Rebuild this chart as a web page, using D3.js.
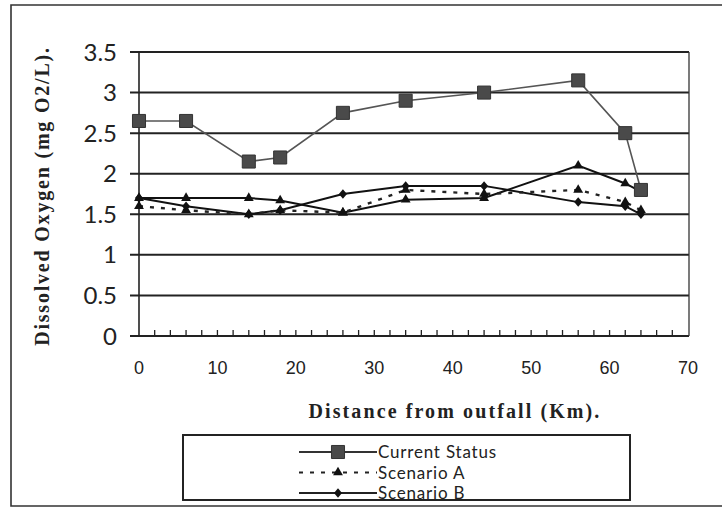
<!DOCTYPE html>
<html>
<head>
<meta charset="utf-8">
<script src="https://cdn.jsdelivr.net/npm/d3@7"></script>
<style>
  html, body { margin: 0; padding: 0; background: #fff; }
  svg { display: block; }
</style>
</head>
<body>
<svg id="chart" width="722" height="509"></svg>
<script>
// ---- data ----
const distances = [0, 6, 14, 18, 26, 34, 44, 56, 62, 64];
const currentStatus = [2.65, 2.65, 2.15, 2.2, 2.75, 2.9, 3.0, 3.15, 2.5, 1.8];
const scenarioA = [1.6, 1.55, 1.5, 1.55, 1.52, 1.8, 1.75, 1.8, 1.65, 1.55];
const scenarioB = [1.7, 1.6, 1.5, 1.55, 1.75, 1.85, 1.85, 1.65, 1.6, 1.5];
const scenarioC = [1.7, 1.7, 1.7, 1.67, 1.52, 1.68, 1.7, 2.1, 1.88, 1.78];
const yTickValues = [0, 0.5, 1, 1.5, 2, 2.5, 3, 3.5];
const xTickValues = [0, 10, 20, 30, 40, 50, 60, 70];
const legendNames = ["Current Status", "Scenario A", "Scenario B"];
const yTitle = "Dissolved Oxygen (mg O2/L).";
const xTitle = "Distance from outfall (Km).";

const svg = d3.select("#chart");
const L = 139, R = 688, T = 52, B = 336;
const x = d3.scaleLinear().domain([0, 70]).range([L, R]);
const y = d3.scaleLinear().domain([0, 3.5]).range([B, T]);

// outer border
svg.append("path")
  .attr("d", "M722,5 H11 V506 H722")
  .attr("fill", "none").attr("stroke", "#333").attr("stroke-width", 1.6);

// horizontal gridlines (with outside tick stubs)
svg.append("g").selectAll("line").data(yTickValues).join("line")
  .attr("x1", L - 9).attr("x2", R + 1)
  .attr("y1", d => y(d)).attr("y2", d => y(d))
  .attr("stroke", "#222").attr("stroke-width", 2);

// right border of plot
svg.append("line").attr("x1", R + 1).attr("x2", R + 1).attr("y1", y(3.5)).attr("y2", y(0))
  .attr("stroke", "#333").attr("stroke-width", 1.3);
// y axis line
svg.append("line").attr("x1", L).attr("x2", L).attr("y1", y(3.5)).attr("y2", y(0))
  .attr("stroke", "#222").attr("stroke-width", 1.6);

// minor ticks along x axis (inside, every 2 km)
const minor = d3.range(2, 70, 2);
svg.append("g").selectAll("line").data(minor).join("line")
  .attr("x1", d => x(d)).attr("x2", d => x(d))
  .attr("y1", B).attr("y2", B - 6)
  .attr("stroke", "#222").attr("stroke-width", 1.3);

// y tick labels
svg.append("g").selectAll("text").data(yTickValues).join("text")
  .attr("x", 117).attr("y", d => y(d)).attr("dy", "0.36em")
  .attr("text-anchor", "end")
  .style("font-family", "Lato, 'Open Sans', sans-serif").style("font-size", "24px")
  .attr("fill", "#222")
  .text(d => d);

// x tick labels
svg.append("g").selectAll("text").data(xTickValues).join("text")
  .attr("x", d => x(d)).attr("y", 368).attr("dy", "0.36em")
  .attr("text-anchor", "middle")
  .style("font-family", "'Liberation Sans', Arial, sans-serif").style("font-size", "18px")
  .attr("fill", "#222")
  .text(d => d);

// axis titles
svg.append("text")
  .attr("transform", "translate(49,196) rotate(-90)")
  .attr("text-anchor", "middle")
  .style("font-family", "'Liberation Serif', 'Times New Roman', serif")
  .style("font-size", "20px").style("font-weight", "bold").style("letter-spacing", "1.8px")
  .attr("fill", "#222")
  .text(yTitle);
svg.append("text")
  .attr("x", 455).attr("y", 418)
  .attr("text-anchor", "middle")
  .style("font-family", "'Liberation Serif', 'Times New Roman', serif")
  .style("font-size", "20px").style("font-weight", "bold").style("letter-spacing", "2.1px")
  .attr("fill", "#222")
  .text(xTitle);

// symbols
const diamondType = {
  draw(ctx, size) {
    const h = Math.sqrt(size) / 2;
    const w = h * 0.85;
    ctx.moveTo(0, -h); ctx.lineTo(w, 0); ctx.lineTo(0, h); ctx.lineTo(-w, 0); ctx.closePath();
  }
};
const squareSym = d3.symbol().type(d3.symbolSquare).size(170);
const triSym = d3.symbol().type(d3.symbolTriangle).size(42);
const diaSym = d3.symbol().type(diamondType).size(90);

const line = d3.line().x(d => x(d[0])).y(d => y(d[1]));
const pts = arr => distances.map((d, i) => [d, arr[i]]);

const series = [
  { values: scenarioC, stroke: "#111", width: 2, dash: null, sym: triSym },
  { values: scenarioB, stroke: "#111", width: 2, dash: null, sym: diaSym },
  { values: scenarioA, stroke: "#222", width: 2.4, dash: "4,7", sym: triSym },
  { values: currentStatus, stroke: "#555", width: 1.6, dash: null, sym: squareSym, fill: "#4a4a4a" }
];

series.forEach(s => {
  svg.append("path").datum(pts(s.values))
    .attr("d", line).attr("fill", "none")
    .attr("stroke", s.stroke).attr("stroke-width", s.width)
    .attr("stroke-dasharray", s.dash);
});
series.forEach(s => {
  svg.append("g").selectAll("path").data(pts(s.values)).join("path")
    .attr("transform", d => `translate(${x(d[0])},${y(d[1])})`)
    .attr("d", s.sym)
    .attr("fill", s.fill || "#111")
    .attr("stroke", s.fill ? "#333" : "none").attr("stroke-width", 1);
});

// legend
const lg = svg.append("g");
lg.append("clipPath").attr("id", "lgclip").append("rect")
  .attr("x", 183).attr("y", 435).attr("width", 447).attr("height", 65);
lg.append("rect").attr("x", 183).attr("y", 435).attr("width", 447).attr("height", 65)
  .attr("fill", "#fff").attr("stroke", "#222").attr("stroke-width", 1.8);
const legendItems = [
  { name: legendNames[0], dash: null, sym: squareSym, fill: "#4a4a4a", stroke: "#333", w: 1.8 },
  { name: legendNames[1], dash: "4,7", sym: triSym, fill: "#111", stroke: "#222", w: 2 },
  { name: legendNames[2], dash: null, sym: diaSym, fill: "#111", stroke: "#222", w: 1.8 }
];
const li = lg.append("g").attr("clip-path", "url(#lgclip)")
  .selectAll("g").data(legendItems).join("g")
  .attr("transform", (d, i) => `translate(0,${452 + i * 20.5})`);
li.append("line").attr("x1", 299).attr("x2", 377).attr("y1", 0).attr("y2", 0)
  .attr("stroke", d => d.stroke).attr("stroke-width", d => d.w)
  .attr("stroke-dasharray", d => d.dash);
li.append("path").attr("transform", "translate(338,0)")
  .attr("d", d => d.sym()).attr("fill", d => d.fill)
  .attr("stroke", d => d.fill === "#4a4a4a" ? "#333" : "none");
li.append("text").attr("x", 378).attr("y", 0).attr("dy", "0.36em")
  .style("font-family", "Lato, 'Open Sans', sans-serif").style("font-size", "17px")
  .style("letter-spacing", "0.8px")
  .attr("fill", "#222")
  .text(d => d.name);
lg.append("rect").attr("x", 183).attr("y", 435).attr("width", 447).attr("height", 65)
  .attr("fill", "none").attr("stroke", "#222").attr("stroke-width", 1.8);
</script>
</body>
</html>
